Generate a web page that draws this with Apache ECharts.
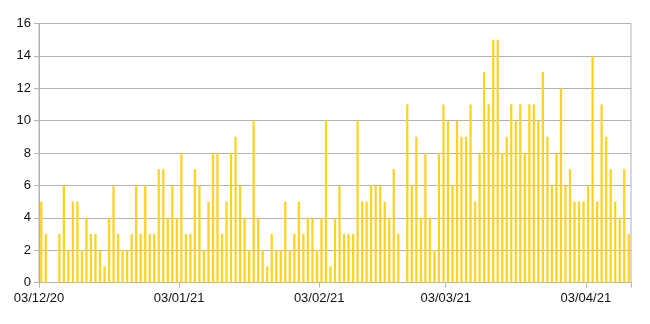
<!DOCTYPE html>
<html>
<head>
<meta charset="utf-8">
<script src="https://cdn.jsdelivr.net/npm/echarts@6/dist/echarts.min.js"></script>
<style>
html,body{margin:0;padding:0;background:#fff;}
#chart{width:650px;height:324px;}
</style>
</head>
<body>
<div id="chart"></div>
<script>
// Daily categories from 03/12/20 to 12/04/21
const startDate = [2020, 11, 3]; // year, month index, day
const dayCount = 131;
function pad(n){return (n<10?'0':'')+n;}
const categories = [];
for (let i = 0; i < dayCount; i++) {
  const d = new Date(Date.UTC(startDate[0], startDate[1], startDate[2] + i));
  categories.push(pad(d.getUTCDate()) + '/' + pad(d.getUTCMonth()+1) + '/' + String(d.getUTCFullYear()).slice(2));
}

const valuesDec = [5,3,0,0,3,6,2,5,5,2,4,3,3,2,1,4,6,3,2,2,3,6,3];
const valuesJan = [6,3,3,7,7,4,6,4,8,3,3,7,6,2,5,8,8,3,5,8,9,6,4,2,10,4,2,1];
const valuesFeb = [3,2,2,5,2,3,5,3,4,4,2,4,10,1,4,6,3,3,3,10,5,5,6,6,6,5,4,7,3];
const valuesMar = [0,11,6,9,4,8,4,2,8,11,10,6,10,9,9,11,5,8,13,11,15,15,8,9,11,10,11,8,11];
const valuesApr = [11,10,13,9,6,8,12,6,7,5,5,5,6,14,5,11,9,7,5,4,7,3];
const values = [].concat(valuesDec, valuesJan, valuesFeb, valuesMar, valuesApr);

const tickLabels = ['03/12/20','03/01/21','03/02/21','03/03/21','03/04/21'];

const chart = echarts.init(document.getElementById('chart'), null, {renderer:'canvas'});
const showTick = (idx) => tickLabels.indexOf(categories[idx]) >= 0;
chart.setOption({
  animation: false,
  backgroundColor: '#ffffff',
  grid: {left: 39, right: 19, top: 23.5, bottom: 41.5, show: true, borderColor: '#b3b3b3', borderWidth: 1},
  xAxis: {
    type: 'category',
    data: categories,
    boundaryGap: true,
    axisLine: {lineStyle: {color: '#b3b3b3'}},
    axisTick: {show: true, length: 5, interval: showTick, lineStyle: {color: '#b3b3b3'}},
    axisLabel: {
      interval: showTick,
      color: '#111',
      fontFamily: 'Liberation Sans',
      fontSize: 13,
      margin: 9,
      padding: [0, 4.5, 0, 0]
    },
    splitLine: {show: false}
  },
  yAxis: {
    type: 'value',
    min: 0, max: 16, interval: 2,
    axisLine: {show: true, lineStyle: {color: '#b3b3b3'}},
    axisTick: {show: true, length: 5, lineStyle: {color: '#b3b3b3'}},
    axisLabel: {color: '#111', fontFamily: 'Liberation Sans', fontSize: 13, margin: 8},
    splitLine: {show: true, lineStyle: {color: '#b3b3b3'}}
  },
  series: [{
    type: 'bar',
    data: values,
    barWidth: '50%',
    itemStyle: {color: '#ffd320'}
  }]
});
</script>
</body>
</html>
